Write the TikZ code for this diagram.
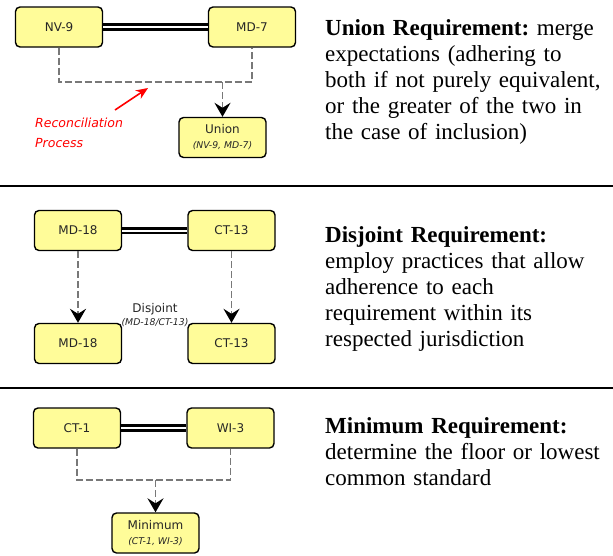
\documentclass[tikz,border=0pt]{standalone}
\usepackage{fontspec}
\setmainfont{Liberation Serif}
\newfontfamily\boxfont{DejaVu Sans}
\usetikzlibrary{arrows.meta}

\definecolor{boxfill}{RGB}{255,252,153}
\definecolor{linkgray}{RGB}{120,120,120}
\definecolor{notered}{RGB}{255,0,0}

\newcommand{\subtag}[1]{{\fontsize{9.3}{11}\selectfont\itshape #1}}

\begin{document}
\frenchspacing
\begin{tikzpicture}[x=1pt,y=-1pt,
  req/.style={draw, line width=1.4pt, rounded corners=4.5pt, fill=boxfill,
    font=\boxfont\fontsize{12}{14}\selectfont, text=black!85,
    minimum width=87pt, minimum height=40pt, inner sep=0pt, align=center},
  bond/.style={double, line width=2.8pt, double distance=2pt},
  merge/.style={linkgray, line width=1.8pt, dash pattern=on 7pt off 3pt},
  feed/.style={merge, -{Stealth[length=14pt,width=16pt,inset=5pt,color=black]}},
  pointer/.style={notered, line width=1.6pt, -{Stealth[length=12pt,width=10pt]}},
  recon/.style={font=\boxfont\itshape\fontsize{12.5}{20}\selectfont, text=notered,
    align=left, inner sep=0pt, anchor=north west},
  note/.style={font=\fontsize{23}{26}\selectfont, text width=288pt, align=left,
    inner sep=0pt, anchor=base west},
  rule/.style={line width=2pt}
]
\useasboundingbox (0,0) rectangle (613,555);

% ---- union ----
\node[req] (nv9) at (59,27) {NV-9};
\node[req] (md7) at (252,27) {MD-7};
\node[req] (union) at (222.5,137.5) {Union\\[1pt]\subtag{(NV-9, MD-7)}};
\draw[bond] (nv9) -- (md7);
\coordinate (ubar) at (0,82);
\draw[merge] (nv9.south) |- (md7.south |- ubar) -- (md7.south);
\draw[feed] (union.north |- ubar) -- (union.north);
\node[recon] (rp) at (35,118) {Reconciliation\\Process};
\coordinate (rtail) at (115,110);
\coordinate (rtip) at (148,88);
\draw[pointer] (rtail) -- (rtip);

\node[note] (unote) at (325,35)
  {\textbf{Union Requirement:} merge\\expectations (adhering to\\both if not purely equivalent,\\or the greater of the two in\\the case of inclusion)};

\draw[rule] (0,185.5) -- (613,185.5);

% ---- disjoint ----
\node[req] (md18a) at (78,230.5) {MD-18};
\node[req] (ct13a) at (231.5,230.5) {CT-13};
\node[req] (md18b) at (78,343.5) {MD-18};
\node[req] (ct13b) at (231.5,343.5) {CT-13};
\draw[bond] (md18a) -- (ct13a);
\draw[feed] (md18a) -- (md18b);
\draw[feed] (ct13a) -- (ct13b);
\node[font=\boxfont\fontsize{12}{14}\selectfont, text=black!85, align=center, inner sep=0pt]
  (dlabel) at (155,315) {Disjoint\\[-1pt]\subtag{(MD-18/CT-13)}};

\node[note] (dnote) at (325,242)
  {\textbf{Disjoint Requirement:}\\employ practices that allow\\adherence to each\\requirement within its\\respected jurisdiction};

\draw[rule] (0,388) -- (613,388);

% ---- minimum ----
\node[req] (ct1) at (77,428) {CT-1};
\node[req] (wi3) at (230.5,428) {WI-3};
\node[req] (minimum) at (155.5,533) {Minimum\\[1pt]\subtag{(CT-1, WI-3)}};
\draw[bond] (ct1) -- (wi3);
\coordinate (mbar) at (0,480);
\draw[merge] (ct1.south) |- (wi3.south |- mbar) -- (wi3.south);
\draw[feed] (minimum.north |- mbar) -- (minimum.north);

\node[note] (mnote) at (325,433)
  {\textbf{Minimum Requirement:}\\determine the floor or lowest\\common standard};
\end{tikzpicture}
\end{document}
